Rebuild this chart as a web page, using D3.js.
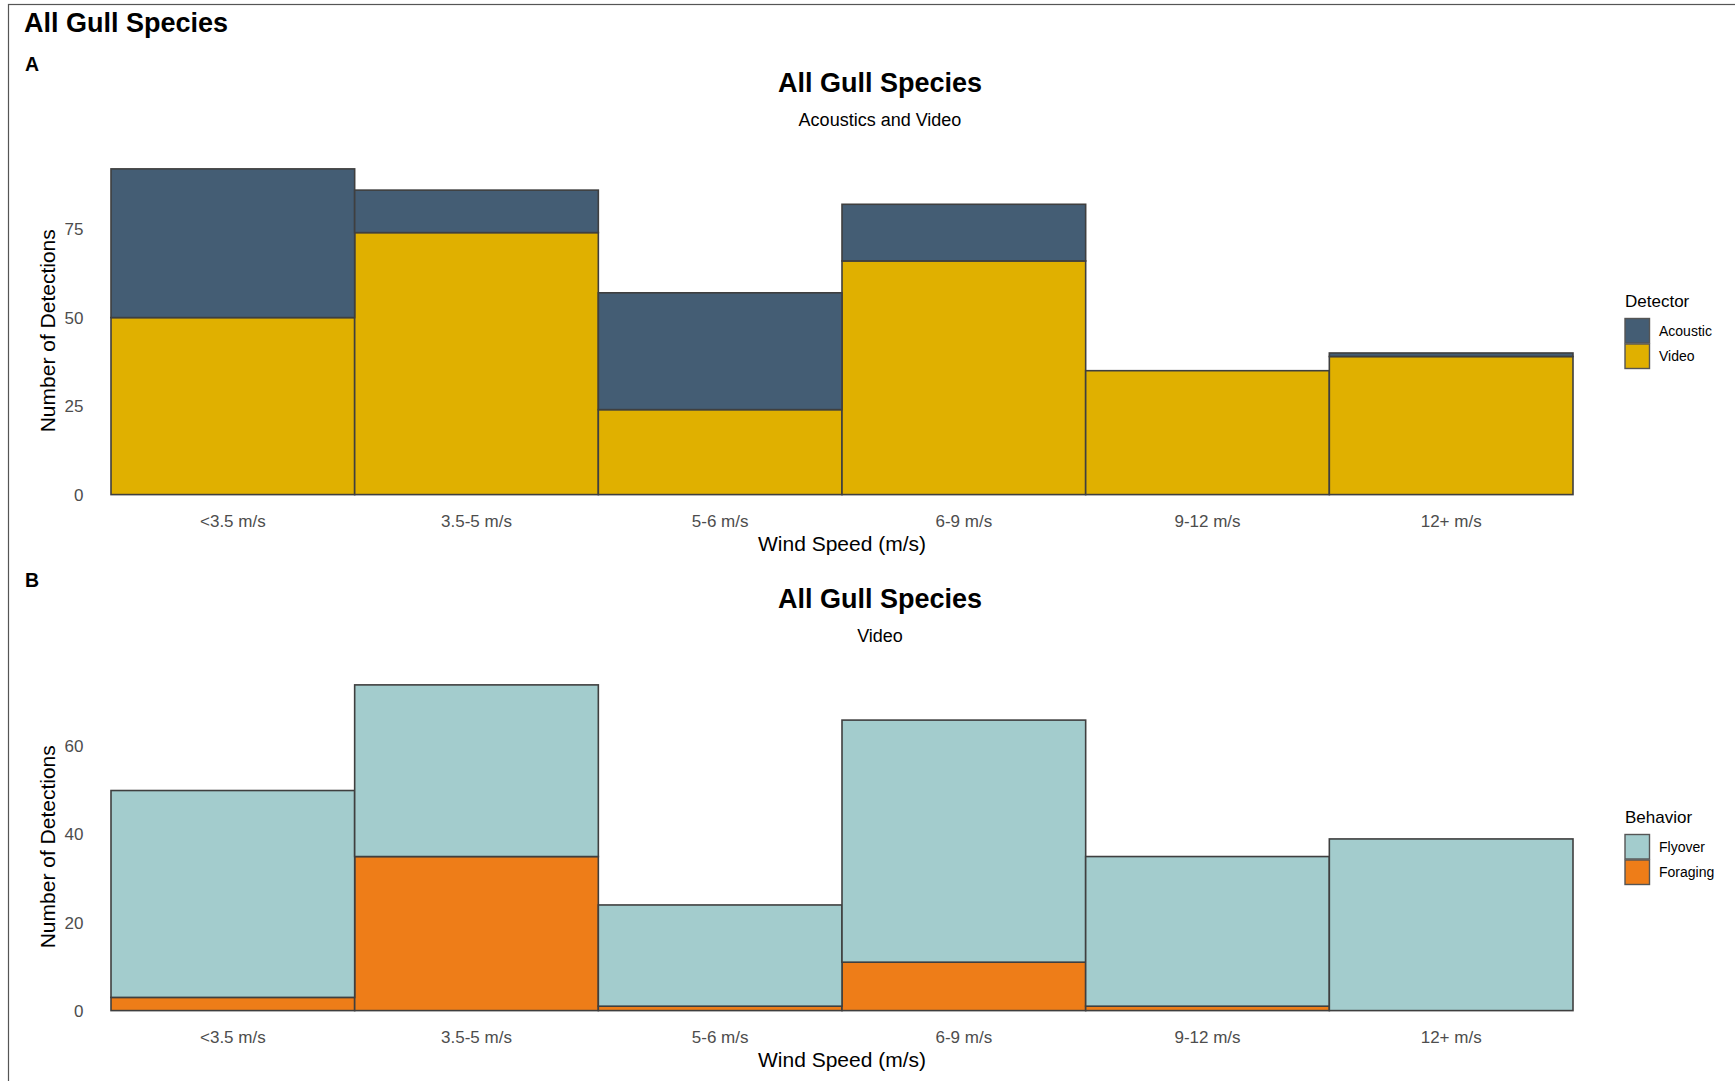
<!DOCTYPE html>
<html>
<head>
<meta charset="utf-8">
<script src="https://cdn.jsdelivr.net/npm/d3@7"></script>
<style>
  body { margin: 0; background: #fff; }
  svg text { font-family: "Liberation Sans", Arial, Helvetica, sans-serif; }
</style>
</head>
<body>
<svg id="chart" width="1735" height="1081"></svg>
<script>
// wind speed bins
const categories = ["<3.5 m/s", "3.5-5 m/s", "5-6 m/s", "6-9 m/s", "9-12 m/s", "12+ m/s"];

// panel A: detections by detector
const detectorKeys = ["Acoustic", "Video"];
const acoustic = [42, 12, 33, 16, 0, 1];
const video = [50, 74, 24, 66, 35, 39];
const ticksA = [0, 25, 50, 75];

// panel B: video detections by behavior
const behaviorKeys = ["Flyover", "Foraging"];
const flyover = [47, 39, 23, 55, 34, 39];
const foraging = [3, 35, 1, 11, 1, 0];
const ticksB = [0, 20, 40, 60];

const svg = d3.select("#chart");
const W = 1735, H = 1081;
const stroke = "#3f3f3f";

// outer frame (only top/left edges fall inside the view)
svg.append("rect")
  .attr("x", 8.5).attr("y", 4.5)
  .attr("width", W + 20).attr("height", H + 20)
  .attr("fill", "none").attr("stroke", "#555").attr("stroke-width", 1.2);

svg.append("text")
  .attr("x", 24).attr("y", 32)
  .style("font-size", "27px").style("font-weight", "bold")
  .text("All Gull Species");

const x = d3.scaleBand().domain(categories).range([111, 1573]).padding(0);

function drawPanel(opts) {
  const { off, letter, subtitle, keys, series, colors, ticks, legendTitle, bottomKey } = opts;
  const g = svg.append("g").attr("transform", `translate(0,${off})`);
  const plotBottom = 494.6, plotHeight = 342;

  const rows = categories.map((c, i) => {
    const r = { cat: c };
    keys.forEach(k => { r[k] = series[k][i]; });
    return r;
  });
  const totals = rows.map(r => d3.sum(keys, k => r[k]));

  const y = d3.scaleLinear()
    .domain([0, d3.max(totals) * 1.05])
    .range([plotBottom, plotBottom - plotHeight]);

  // stack with bottomKey first so it sits at the base
  const order = [bottomKey, ...keys.filter(k => k !== bottomKey)];
  const stacked = d3.stack().keys(order)(rows);
  const color = d3.scaleOrdinal().domain(keys).range(colors);

  g.append("text")
    .attr("x", 25).attr("y", 64).attr("dy", "0.35em")
    .style("font-size", "19.5px").style("font-weight", "bold")
    .text(letter);

  g.append("text")
    .attr("x", 880).attr("y", 83).attr("dy", "0.35em")
    .attr("text-anchor", "middle")
    .style("font-size", "27px").style("font-weight", "bold")
    .text("All Gull Species");

  g.append("text")
    .attr("x", 880).attr("y", 119.5).attr("dy", "0.35em")
    .attr("text-anchor", "middle")
    .style("font-size", "18px")
    .text(subtitle);

  // bars
  stacked.forEach(layer => {
    g.append("g").selectAll("rect")
      .data(layer)
      .enter()
      .append("rect")
      .attr("x", d => x(d.data.cat))
      .attr("width", x.bandwidth())
      .attr("y", d => y(d[1]))
      .attr("height", d => y(d[0]) - y(d[1]))
      .attr("fill", color(layer.key))
      .attr("stroke", stroke)
      .attr("stroke-width", 1.6);
  });

  // y axis (labels only)
  const yAxis = g.append("g")
    .attr("transform", "translate(83.5,0)")
    .call(d3.axisLeft(y).tickValues(ticks).tickSize(0).tickPadding(0));
  yAxis.select(".domain").remove();
  yAxis.selectAll("text")
    .style("font-size", "17px").style("fill", "#4d4d4d")
    .style("font-family", "'Liberation Sans', Arial, sans-serif");

  // x axis (labels only)
  const xAxis = g.append("g")
    .attr("transform", `translate(0,${plotBottom})`)
    .call(d3.axisBottom(x).tickSize(0).tickPadding(0));
  xAxis.select(".domain").remove();
  xAxis.selectAll("text")
    .attr("y", 26.5).attr("dy", "0.35em")
    .style("font-size", "17px").style("fill", "#4d4d4d")
    .style("font-family", "'Liberation Sans', Arial, sans-serif");

  g.append("text")
    .attr("x", 842).attr("y", 543.5).attr("dy", "0.35em")
    .attr("text-anchor", "middle")
    .style("font-size", "21px")
    .text("Wind Speed (m/s)");

  g.append("text")
    .attr("transform", `translate(47.5,${(230 + 431.5) / 2}) rotate(-90)`)
    .attr("dy", "0.35em")
    .attr("text-anchor", "middle")
    .style("font-size", "21px")
    .text("Number of Detections");

  // legend
  const lg = g.append("g").attr("transform", "translate(1625,307)");
  lg.append("text")
    .attr("x", 0).attr("y", 0)
    .style("font-size", "17px")
    .text(legendTitle);
  keys.forEach((k, i) => {
    lg.append("rect")
      .attr("x", 0).attr("y", 11.5 + i * 25.5)
      .attr("width", 24.5).attr("height", 24.5)
      .attr("fill", color(k))
      .attr("stroke", "#555").attr("stroke-width", 1.4);
    lg.append("text")
      .attr("x", 34).attr("y", 11.5 + i * 25.5 + 12.5).attr("dy", "0.35em")
      .style("font-size", "14px")
      .text(k);
  });
}

drawPanel({
  off: 0,
  letter: "A",
  subtitle: "Acoustics and Video",
  keys: detectorKeys,
  series: { Acoustic: acoustic, Video: video },
  colors: ["#445d74", "#e0b000"],
  ticks: ticksA,
  legendTitle: "Detector",
  bottomKey: "Video"
});

drawPanel({
  off: 516,
  letter: "B",
  subtitle: "Video",
  keys: behaviorKeys,
  series: { Flyover: flyover, Foraging: foraging },
  colors: ["#a3cccd", "#ee7d18"],
  ticks: ticksB,
  legendTitle: "Behavior",
  bottomKey: "Foraging"
});
</script>
</body>
</html>
